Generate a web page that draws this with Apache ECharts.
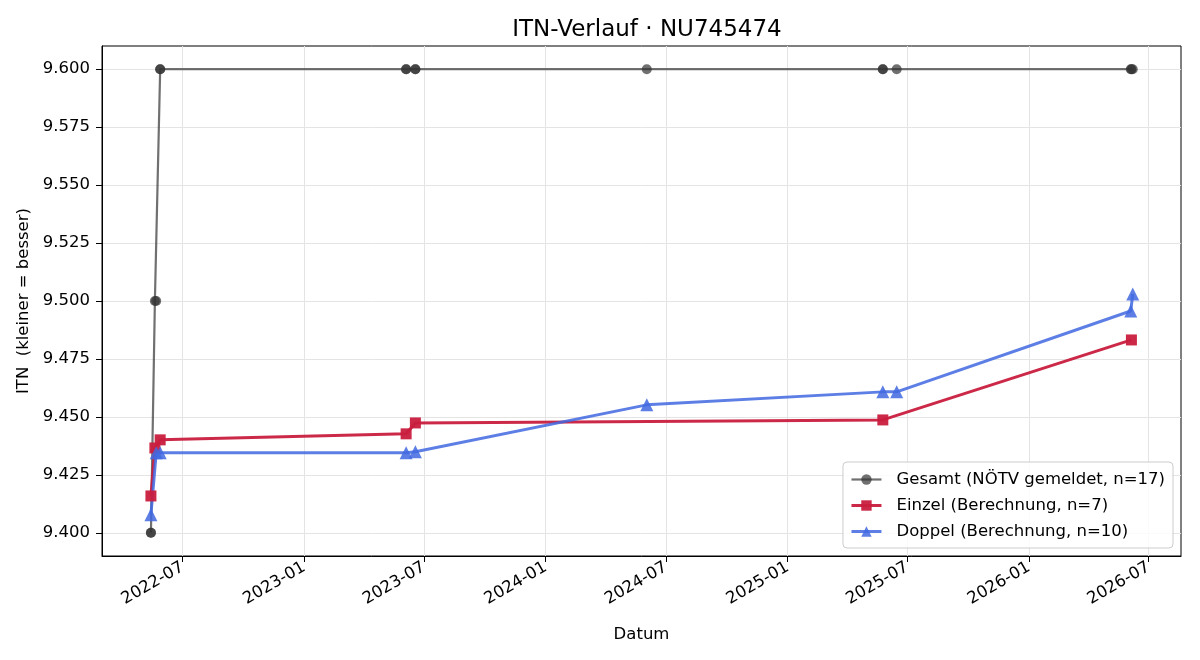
<!DOCTYPE html>
<html>
<head>
<meta charset="utf-8">
<title>ITN-Verlauf</title>
<script src="https://cdn.jsdelivr.net/npm/echarts@6/dist/echarts.min.js"></script>
<style>
  html, body {margin: 0; padding: 0; background: #fff;}
  #main {width: 1200px; height: 660px;}
</style>
</head>
<body>
<div id="main"></div>
<script>
// Gesamt = alle gemeldeten Werte (Einzel + Doppel Termine)
const gesamtDates = [
  '2022-05-14', '2022-05-14', '2022-05-20', '2022-05-22', '2022-05-28', '2022-05-28',
  '2023-06-04', '2023-06-04', '2023-06-18', '2023-06-18', '2024-06-02',
  '2025-05-25', '2025-05-25', '2025-06-15', '2026-06-04', '2026-06-05', '2026-06-07'
];
const gesamtValues = [
  9.4, 9.4, 9.5, 9.5, 9.6, 9.6,
  9.6, 9.6, 9.6, 9.6, 9.6,
  9.6, 9.6, 9.6, 9.6, 9.6, 9.6
];

const einzelDates = ['2022-05-14', '2022-05-20', '2022-05-28', '2023-06-04', '2023-06-18', '2025-05-25', '2026-06-05'];
const einzelValues = [9.4159, 9.4366, 9.4401, 9.4427, 9.4474, 9.4487, 9.4832];

const doppelDates = [
  '2022-05-14', '2022-05-22', '2022-05-28', '2023-06-04', '2023-06-18',
  '2024-06-02', '2025-05-25', '2025-06-15', '2026-06-04', '2026-06-07'
];
const doppelValues = [9.4078, 9.4345, 9.4345, 9.4345, 9.4350, 9.4552, 9.4608, 9.4608, 9.4957, 9.5030];

const xTicks = [
  '2022-07-01', '2023-01-01', '2023-07-01', '2024-01-01', '2024-07-01',
  '2025-01-01', '2025-07-01', '2026-01-01', '2026-07-01'
];
const yTicks = [9.400, 9.425, 9.450, 9.475, 9.500, 9.525, 9.550, 9.575, 9.600];

const seriesNames = ['Gesamt (NÖTV gemeldet, n=17)', 'Einzel (Berechnung, n=7)', 'Doppel (Berechnung, n=10)'];

const font = 'DejaVu Sans';
const toTime = s => +echarts.number.parseDate(s);
const zip = (d, v) => d.map((x, i) => [toTime(x), v[i]]);

const grey = '#333333';
const red = '#c91d3e';
const blue = '#4169e1';

const chart = echarts.init(document.getElementById('main'));

chart.setOption({
  animation: false,
  backgroundColor: '#fff',
  textStyle: {fontFamily: font},
  title: {
    text: 'ITN-Verlauf · NU745474',
    left: 642,
    top: 14,
    textAlign: 'center',
    textStyle: {fontFamily: font, fontSize: 23, fontWeight: 'normal', color: '#000'}
  },
  grid: {
    left: 102, right: 19, top: 46, bottom: 104,
    show: true, borderColor: '#000', borderWidth: 1, backgroundColor: 'transparent'
  },
  legend: {
    orient: 'vertical',
    right: 27,
    bottom: 112,
    padding: [8, 8, 7, 7],
    itemWidth: 30,
    itemHeight: 13,
    itemGap: 7,
    backgroundColor: 'rgba(255,255,255,0.85)',
    borderColor: '#cccccc',
    borderWidth: 1,
    borderRadius: 4,
    textStyle: {fontFamily: font, fontSize: 16.5, color: '#000', lineHeight: 19, padding: [0, 0, 0, 10]},
    data: [
      {name: seriesNames[0], lineStyle: {width: 2.2}},
      {name: seriesNames[1], lineStyle: {width: 3}},
      {name: seriesNames[2], lineStyle: {width: 3}}
    ]
  },
  xAxis: {
    type: 'value',
    min: toTime('2022-03-01'),
    max: toTime('2026-08-19'),
    name: 'Datum',
    nameLocation: 'middle',
    nameGap: 70,
    nameTextStyle: {fontFamily: font, fontSize: 16.5, color: '#000'},
    axisLine: {show: true, lineStyle: {color: '#000', width: 1}},
    axisTick: {show: true, length: 6, lineStyle: {color: '#000'}, customValues: xTicks.map(toTime)},
    axisLabel: {
      customValues: xTicks.map(toTime),
      rotate: 30,
      margin: 10,
      fontFamily: font,
      fontSize: 16.5,
      color: '#000',
      formatter: v => {
        const d = new Date(v);
        return d.getFullYear() + '-' + String(d.getMonth() + 1).padStart(2, '0');
      }
    },
    splitLine: {show: true, lineStyle: {color: '#e4e4e4', width: 1}}
  },
  yAxis: {
    type: 'value',
    min: 9.39,
    max: 9.61,
    name: 'ITN  (kleiner = besser)',
    nameLocation: 'middle',
    nameGap: 68,
    nameTextStyle: {fontFamily: font, fontSize: 16.5, color: '#000'},
    axisLine: {show: true, lineStyle: {color: '#000', width: 1}},
    axisTick: {show: true, length: 6, lineStyle: {color: '#000'}, customValues: yTicks},
    axisLabel: {
      customValues: yTicks,
      margin: 12,
      fontFamily: font,
      fontSize: 16.5,
      color: '#000',
      formatter: v => v.toFixed(3)
    },
    splitLine: {show: true, lineStyle: {color: '#e4e4e4', width: 1}}
  },
  series: [
    {
      name: seriesNames[0],
      type: 'line',
      data: zip(gesamtDates, gesamtValues),
      symbol: 'circle',
      symbolSize: 10,
      lineStyle: {color: grey, width: 2.2, opacity: 0.7},
      itemStyle: {color: grey, opacity: 0.7}
    },
    {
      name: seriesNames[1],
      type: 'line',
      data: zip(einzelDates, einzelValues),
      symbol: 'rect',
      symbolSize: 11,
      lineStyle: {color: red, width: 3, opacity: 0.95},
      itemStyle: {color: red, opacity: 0.95}
    },
    {
      name: seriesNames[2],
      type: 'line',
      data: zip(doppelDates, doppelValues),
      symbol: 'triangle',
      symbolSize: 13,
      lineStyle: {color: blue, width: 3, opacity: 0.85},
      itemStyle: {color: blue, opacity: 0.85}
    }
  ]
});
</script>
</body>
</html>
